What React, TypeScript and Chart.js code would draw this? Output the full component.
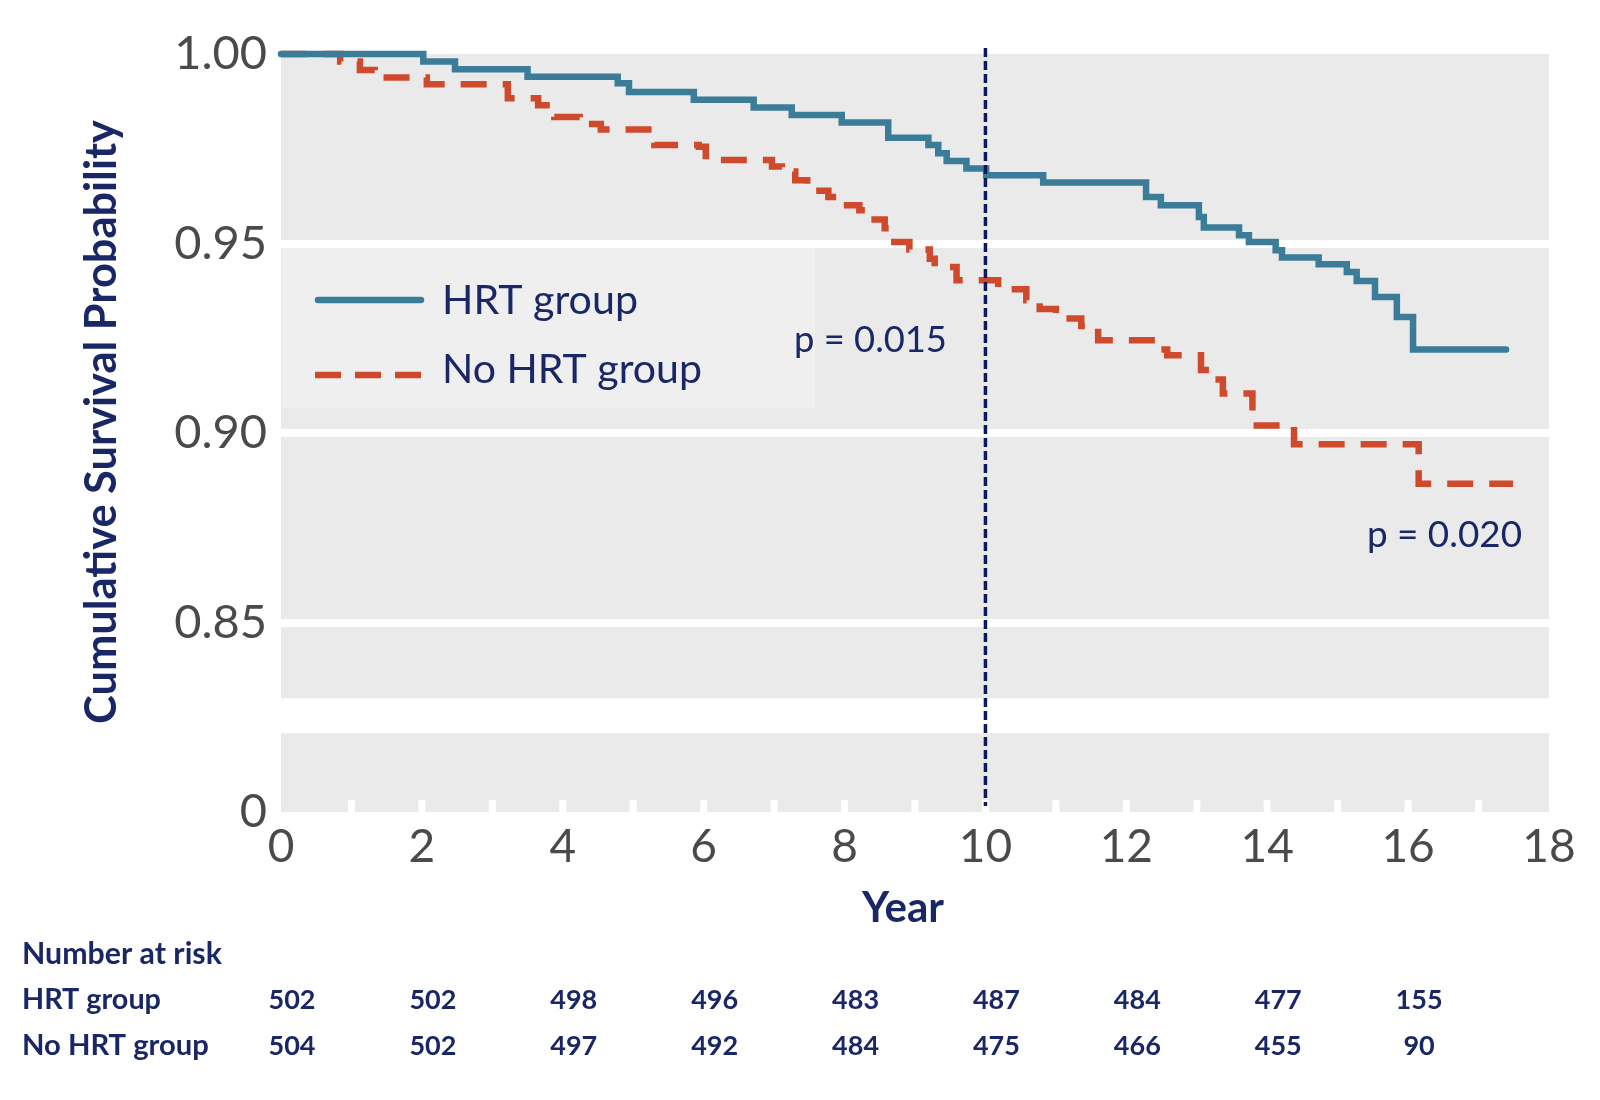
import React, { useEffect, useRef } from 'react';
import { Chart, registerables } from 'chart.js';

Chart.register(...registerables);

// ---- Data ----
const hrtTimes = [0, 2.02, 2.47, 3.5, 4.78, 4.94, 5.86, 6.71, 7.25, 7.96, 8.62, 9.19, 9.33, 9.45, 9.73, 10.01, 10.82, 12.28, 12.49, 13.03, 13.1, 13.6, 13.74, 14.12, 14.21, 14.73, 15.13, 15.27, 15.53, 15.84, 16.07, 17.39];
const hrtSurv = [1.0, 0.998, 0.996, 0.994, 0.9923, 0.99, 0.9879, 0.9859, 0.9839, 0.9819, 0.9779, 0.976, 0.9738, 0.9718, 0.9698, 0.968, 0.9661, 0.9623, 0.9601, 0.957, 0.9542, 0.9522, 0.9504, 0.9482, 0.9463, 0.9445, 0.9425, 0.9401, 0.9359, 0.9306, 0.922, 0.922];

const noHrtTimes = [0, 0.84, 1.12, 1.33, 2.07, 3.22, 3.65, 3.88, 4.24, 4.54, 5.3, 5.93, 6.03, 6.97, 7.11, 7.3, 7.47, 7.77, 7.89, 8.21, 8.34, 8.57, 8.65, 8.92, 9.21, 9.28, 9.59, 10.18, 10.58, 10.77, 11.0, 11.36, 11.6, 12.43, 12.58, 13.06, 13.25, 13.37, 13.79, 14.38, 16.15, 17.49];
const noHrtSurv = [1.0, 0.998, 0.9958, 0.9938, 0.992, 0.9883, 0.9865, 0.9834, 0.9815, 0.9801, 0.976, 0.9755, 0.972, 0.9703, 0.969, 0.9667, 0.9639, 0.9623, 0.9601, 0.9588, 0.9563, 0.954, 0.9504, 0.9484, 0.946, 0.9438, 0.9403, 0.9379, 0.935, 0.9327, 0.9302, 0.9282, 0.9245, 0.922, 0.9205, 0.9166, 0.9141, 0.9104, 0.902, 0.897, 0.8866, 0.8866];

const seriesNames = ['HRT group', 'No HRT group'];
const riskYears = [0, 2, 4, 6, 8, 10, 12, 14, 16];
const hrtAtRisk = [502, 502, 498, 496, 483, 487, 484, 477, 155];
const noHrtAtRisk = [504, 502, 497, 492, 484, 475, 466, 455, 90];

const yTickValues = [0.8, 0.85, 0.9, 0.95, 1.0];
const yTickLabels = ['0', '0.85', '0.90', '0.95', '1.00'];
const gridValues = [0.85, 0.9, 0.95];
const breakLow = 0.8208;
const breakHigh = 0.83;
const cutYear = 10;
const pLabels = ['p = 0.015', 'p = 0.020'];
const xMin = 0;
const xMax = 18;
const xStep = 2;

// ---- Styles ----
const BLUE = '#3b7c98';
const RED = '#cf4a2d';
const NAVY = '#1a2766';
const BG = '#eaeaea';
const LEGEND_BG = '#efefef';
const FONT = 'Lato, "Open Sans", sans-serif';

function fitFont(ctx: CanvasRenderingContext2D, text: string, weight: string | number, targetW: number) {
  ctx.font = `${weight} 100px ${FONT}`;
  const w = ctx.measureText(text).width;
  const size = (100 * targetW) / w;
  ctx.font = `${weight} ${size}px ${FONT}`;
  return size;
}

function near(a: number, b: number) {
  return Math.abs(a - b) < 1e-6;
}

const decorPlugin = {
  id: 'decor',
  beforeDraw(chart: any) {
    const { ctx, chartArea, scales } = chart;
    const { left, right, top, bottom } = chartArea;
    ctx.save();
    ctx.fillStyle = BG;
    ctx.fillRect(left, top, right - left, bottom - top);
    const yb1 = scales.y.getPixelForValue(breakHigh);
    const yb2 = scales.y.getPixelForValue(breakLow);
    ctx.fillStyle = '#ffffff';
    ctx.fillRect(left - 2, yb1, right - left + 4, yb2 - yb1);
    ctx.restore();
  },
  beforeDatasetsDraw(chart: any) {
    const { ctx, chartArea, scales } = chart;
    const { left, bottom } = chartArea;
    ctx.save();
    // legend box
    ctx.fillStyle = LEGEND_BG;
    ctx.fillRect(left + 1, 248, 814 - left, 160);
    // minor white tick marks each year
    ctx.fillStyle = '#ffffff';
    for (let yr = xMin + 1; yr < xMax; yr++) {
      const px = scales.x.getPixelForValue(yr);
      ctx.fillRect(px - 3.5, bottom - 12, 7, 12);
    }
    ctx.restore();
  },
  afterDatasetsDraw(chart: any) {
    const { ctx, chartArea, scales } = chart;
    ctx.save();
    // vertical dashed line at year 10
    const vx = scales.x.getPixelForValue(cutYear);
    ctx.strokeStyle = '#0b1a5c';
    ctx.lineWidth = 3.5;
    ctx.setLineDash([9, 4]);
    ctx.beginPath();
    ctx.moveTo(vx, 48);
    ctx.lineTo(vx, chartArea.bottom - 6);
    ctx.stroke();
    ctx.setLineDash([]);

    // legend samples
    ctx.lineWidth = 6.5;
    ctx.strokeStyle = BLUE;
    ctx.lineCap = 'round';
    ctx.beginPath();
    ctx.moveTo(318, 300);
    ctx.lineTo(421, 300);
    ctx.stroke();
    ctx.strokeStyle = RED;
    ctx.lineCap = 'butt';
    ctx.setLineDash([26, 14]);
    ctx.beginPath();
    ctx.moveTo(315, 375);
    ctx.lineTo(424, 375);
    ctx.stroke();
    ctx.setLineDash([]);

    ctx.fillStyle = NAVY;
    ctx.textBaseline = 'middle';
    ctx.textAlign = 'left';
    fitFont(ctx, seriesNames[0], 400, 196);
    ctx.fillText(seriesNames[0], 442, 301);
    fitFont(ctx, seriesNames[1], 400, 260);
    ctx.fillText(seriesNames[1], 442, 370);

    fitFont(ctx, pLabels[0], 400, 153);
    ctx.fillText(pLabels[0], 794, 340);
    fitFont(ctx, pLabels[1], 400, 155);
    ctx.fillText(pLabels[1], 1367, 535);
    ctx.restore();
  },
  afterDraw(chart: any) {
    const { ctx, scales } = chart;
    ctx.save();
    ctx.fillStyle = NAVY;
    ctx.textBaseline = 'middle';
    // y title
    ctx.save();
    ctx.translate(102, 422);
    ctx.rotate(-Math.PI / 2);
    ctx.textAlign = 'center';
    fitFont(ctx, 'Cumulative Survival Probability', 700, 604);
    ctx.fillText('Cumulative Survival Probability', 0, 0);
    ctx.restore();
    // x title
    ctx.textAlign = 'center';
    fitFont(ctx, 'Year', 700, 82);
    ctx.fillText('Year', 903, 908);

    // number at risk table
    ctx.textAlign = 'left';
    fitFont(ctx, 'Number at risk', 700, 200);
    ctx.fillText('Number at risk', 22, 954);
    fitFont(ctx, seriesNames[0], 700, 139);
    ctx.fillText(seriesNames[0], 22, 1000);
    fitFont(ctx, seriesNames[1], 700, 187);
    ctx.fillText(seriesNames[1], 22, 1046);

    ctx.textAlign = 'center';
    fitFont(ctx, '502', 700, 47);
    riskYears.forEach((yr, i) => {
      const px = scales.x.getPixelForValue(yr) + 11;
      ctx.fillText(String(hrtAtRisk[i]), px, 1000);
      ctx.fillText(String(noHrtAtRisk[i]), px, 1046);
    });
    ctx.restore();
  },
};

export default function App() {
  const canvasRef = useRef<HTMLCanvasElement | null>(null);

  useEffect(() => {
    const canvas = canvasRef.current;
    if (!canvas) return;
    const chart = new Chart(canvas, {
      type: 'line',
      data: {
        datasets: [
          {
            label: seriesNames[0],
            data: hrtTimes.map((t, i) => ({ x: t, y: hrtSurv[i] })),
            borderColor: BLUE,
            borderWidth: 6.5,
            stepped: true,
            pointRadius: 0,
            fill: false,
            clip: false,
            borderCapStyle: 'round',
            borderJoinStyle: 'miter',
          } as any,
          {
            label: seriesNames[1],
            data: noHrtTimes.map((t, i) => ({ x: t, y: noHrtSurv[i] })),
            borderColor: RED,
            borderWidth: 6.5,
            borderDash: [26, 16],
            stepped: true,
            pointRadius: 0,
            fill: false,
            clip: false,
            borderCapStyle: 'butt',
            borderJoinStyle: 'miter',
          } as any,
        ],
      },
      options: {
        responsive: false,
        animation: false,
        devicePixelRatio: 1,
        layout: { padding: { left: 0, right: 51, top: 54, bottom: 0 } },
        plugins: {
          legend: { display: false },
          tooltip: { enabled: false },
          title: { display: false },
        },
        scales: {
          x: {
            type: 'linear',
            min: xMin,
            max: xMax,
            ticks: {
              stepSize: xStep,
              autoSkip: false,
              maxRotation: 0,
              font: { family: FONT, size: 46, weight: 400 as any },
              color: '#4a4a4a',
              padding: 8,
            },
            grid: { display: false, drawTicks: false },
            border: { display: false },
            afterFit: (s: any) => {
              s.height = 288;
            },
          },
          y: {
            type: 'linear',
            min: yTickValues[0],
            max: yTickValues[yTickValues.length - 1],
            afterBuildTicks: (s: any) => {
              s.ticks = yTickValues.map((v) => ({ value: v }));
            },
            ticks: {
              callback: (v: any) => {
                const idx = yTickValues.findIndex((t) => near(t, Number(v)));
                return idx >= 0 ? yTickLabels[idx] : '';
              },
              font: { family: FONT, size: 47, weight: 400 as any },
              color: '#4a4a4a',
              padding: 14,
            },
            grid: {
              color: (c: any) =>
                c.tick && gridValues.some((g) => near(g, c.tick.value)) ? '#ffffff' : 'rgba(0,0,0,0)',
              lineWidth: 8,
              drawTicks: false,
            },
            border: { display: false },
            afterFit: (s: any) => {
              s.width = 281;
            },
          },
        },
      } as any,
      plugins: [decorPlugin],
    });
    return () => chart.destroy();
  }, []);

  return (
    <div style={{ position: 'absolute', left: 0, top: 0, width: 1600, height: 1100, background: '#fff' }}>
      <canvas ref={canvasRef} width={1600} height={1100} style={{ display: 'block', width: 1600, height: 1100 }} />
    </div>
  );
}
